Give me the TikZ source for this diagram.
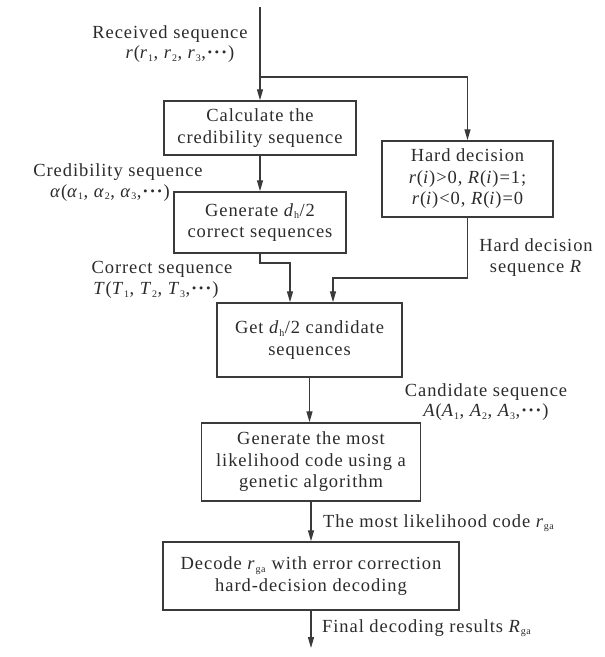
\documentclass[tikz,border=0pt]{standalone}
\usepackage{fontspec}
\setmainfont{Liberation Serif}[LetterSpace=5]
\usetikzlibrary{arrows.meta}
\definecolor{txtc}{HTML}{2B2B2B}
\definecolor{linec}{HTML}{3A3A3A}
\newcommand\subx[1]{\textsubscript{\fontsize{10}{10}\selectfont #1}}
\newcommand\cdts{\textbf{···}}
\newcommand\ii[1]{\textit{#1}}
\begin{document}
\begin{tikzpicture}[x=1pt,y=-1pt,
  box/.style={draw=linec, line width=1.5pt, rectangle, align=center, inner sep=0pt, text=txtc, font=\fontsize{18.5}{21.5}\selectfont},
  lbl/.style={align=center, text=txtc, inner sep=0pt, font=\fontsize{18.5}{20.5}\selectfont},
  arr/.style={draw=linec, line width=1.4pt, -{Triangle[length=11pt,width=6pt]}}]
\useasboundingbox (0,0) rectangle (605,657);

\node[box, minimum width=192pt, minimum height=54pt] (calc) at (260,128) {Calculate the\\credibility sequence};
\node[box, minimum width=172pt, minimum height=61pt] (gen) at (260,222.5) {Generate \ii{d}\subx{h}/2\\correct sequences};
\node[box, minimum width=171pt, minimum height=76pt] (hard) at (467.5,179) {Hard decision\\ \ii{r}(\ii{i})>0, \ii{R}(\ii{i})=1;\\ \ii{r}(\ii{i})<0, \ii{R}(\ii{i})=0};
\node[box, minimum width=185pt, minimum height=74pt] (cand) at (309.5,340) {Get \ii{d}\subx{h}/2 candidate\\sequences};
\node[box, minimum width=219pt, minimum height=78pt] (ga) at (311,462) {Generate the most\\likelihood code using a\\genetic algorithm};
\node[box, minimum width=296pt, minimum height=68pt] (dec) at (311,576) {Decode \ii{r}\subx{ga} with error correction\\hard-decision decoding};

\coordinate (top) at (260,7);
\coordinate (split) at (260,77);
\coordinate (gj) at (260,263);
\coordinate (hj) at (467.5,278);
\coordinate (out) at (311,648);

\draw[arr] (top) -- (calc.north);
\draw[arr] (split) -| (hard.north);
\draw[arr] (calc) -- (gen);
\draw[arr] (gen.south) -- (gj) -| ([xshift=-19.5pt]cand.north);
\draw[arr] (hard.south) -- (hj) -| ([xshift=23.5pt]cand.north);
\draw[arr] (cand.south) -- (cand.south |- ga.north);
\draw[arr] (ga.south) -- (ga.south |- dec.north);
\draw[arr] (dec.south) -- (out);

\node[lbl] (lrec) at (170,44) {Received sequence\\ \hspace*{20pt}\ii{r}(\ii{r}\subx{1}, \ii{r}\subx{2}, \ii{r}\subx{3},\cdts)};
\node[lbl] (lcred) at (118,182.5) {Credibility sequence\\ \ii{α}(\ii{α}\subx{1}, \ii{α}\subx{2}, \ii{α}\subx{3},\cdts)\hspace*{16pt}};
\node[lbl] (lcorr) at (162,280) {Correct sequence\\ \ii{T}(\ii{T}\subx{1}, \ii{T}\subx{2}, \ii{T}\subx{3},\cdts)\hspace*{12pt}};
\node[lbl] (lhard) at (536,257.5) {Hard decision\\sequence \ii{R}};
\node[lbl] (lcand) at (486,402) {Candidate sequence\\ \ii{A}(\ii{A}\subx{1}, \ii{A}\subx{2}, \ii{A}\subx{3},\cdts)};
\node[lbl, anchor=west] (lml) at (323,523) {The most likelihood code \ii{r}\subx{ga}};
\node[lbl, anchor=west] (lfin) at (322,628) {Final decoding results \ii{R}\subx{ga}};
\end{tikzpicture}
\end{document}
